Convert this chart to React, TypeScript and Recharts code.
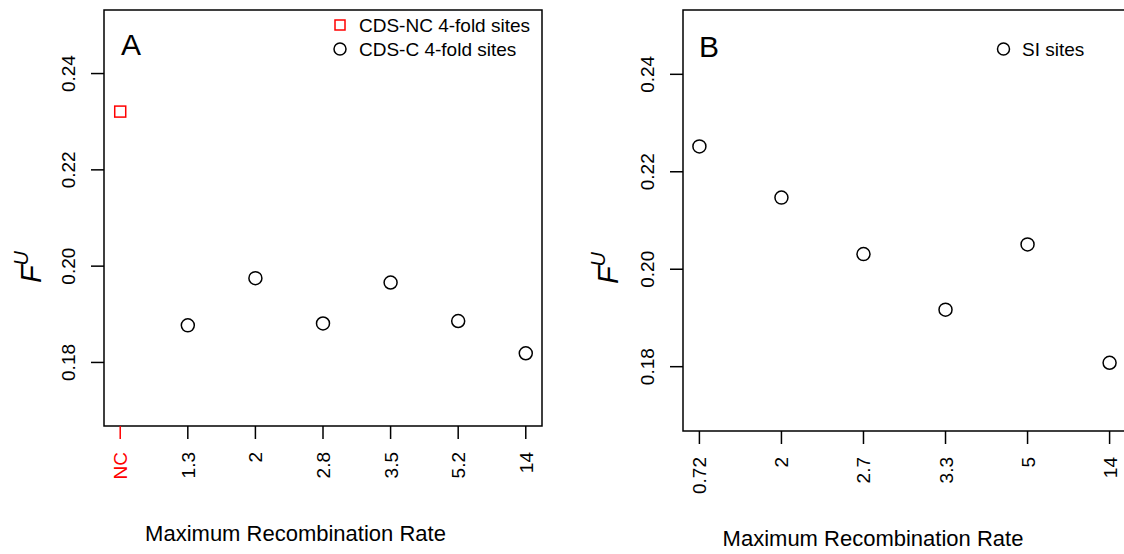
import React from "react";
import { ReferenceArea, Scatter, ScatterChart, XAxis, YAxis } from "recharts";

const FONT = "'Liberation Sans', Arial, Helvetica, sans-serif";

// panel A: CDS 4-fold sites
const ratesA = ["NC", "1.3", "2", "2.8", "3.5", "5.2", "14"];
const cdsNcA = [0.2321];
const cdsCA = [0.1877, 0.1975, 0.1881, 0.1966, 0.1886, 0.1819];

// panel B: SI sites
const ratesB = ["0.72", "2", "2.7", "3.3", "5", "14"];
const siB = [0.2252, 0.2147, 0.2031, 0.1917, 0.2051, 0.1808];

const yTicks = [0.18, 0.2, 0.22, 0.24];
const yLim = [0.17, 0.25];

// R pads axis limits by 4% on each side
function rRange(lo: number, hi: number): [number, number] {
  const pad = (hi - lo) * 0.04;
  return [lo - pad, hi + pad];
}

const toPoints = (vals: number[], start: number) =>
  vals.map((v, i) => ({ x: start + i, y: v }));

const Circle = (p: any) => (
  <circle cx={p.cx} cy={p.cy} r={6.5} fill="none" stroke="#000" strokeWidth={1.5} />
);
const Square = (p: any) => (
  <rect x={p.cx - 5.5} y={p.cy - 5.5} width={11} height={11} fill="none" stroke="#ff0000" strokeWidth={1.5} />
);

function XTick(p: any) {
  const { x, y, payload, labels } = p;
  const label = labels[Math.round(payload.value) - 1];
  const color = label === "NC" ? "#ff0000" : "#000";
  const tx = x + 7;
  const ty = y + 26;
  return (
    <g>
      <line x1={x} y1={y} x2={x} y2={y + 13} stroke={color} strokeWidth={1.5} />
      <text
        x={tx}
        y={ty}
        transform={`rotate(-90 ${tx} ${ty})`}
        textAnchor="end"
        fontSize={19}
        fontFamily={FONT}
        fill={color}
      >
        {label}
      </text>
    </g>
  );
}

function YTick(p: any) {
  const { x, y, payload } = p;
  const tx = x - 29;
  return (
    <g>
      <line x1={x - 13} y1={y} x2={x} y2={y} stroke="#000" strokeWidth={1.5} />
      <text
        x={tx}
        y={y}
        transform={`rotate(-90 ${tx} ${y})`}
        textAnchor="middle"
        fontSize={19}
        fontFamily={FONT}
        fill="#000"
      >
        {Number(payload.value).toFixed(2)}
      </text>
    </g>
  );
}

type Series = { values: number[]; start: number; shape: (p: any) => React.ReactElement };

function Panel({
  labels,
  series,
  width,
  yAxisWidth,
  marginRight,
  marginBottom,
}: {
  labels: string[];
  series: Series[];
  width: number;
  yAxisWidth: number;
  marginRight: number;
  marginBottom: number;
}) {
  const xDomain = rRange(1, labels.length);
  const yDomain = rRange(yLim[0], yLim[1]);
  return (
    <ScatterChart
      width={width}
      height={554}
      margin={{ top: 10, right: marginRight, bottom: marginBottom, left: 0 }}
    >
      <XAxis
        type="number"
        dataKey="x"
        domain={xDomain}
        ticks={labels.map((_, i) => i + 1)}
        interval={0}
        height={100}
        tickSize={0}
        tickMargin={0}
        axisLine={false}
        tickLine={false}
        allowDataOverflow
        tick={(p: any) => <XTick {...p} labels={labels} />}
      />
      <YAxis
        type="number"
        dataKey="y"
        domain={yDomain}
        ticks={yTicks}
        interval={0}
        width={yAxisWidth}
        tickSize={0}
        tickMargin={0}
        axisLine={false}
        tickLine={false}
        allowDataOverflow
        tick={(p: any) => <YTick {...p} />}
      />
      <ReferenceArea
        x1={xDomain[0]}
        x2={xDomain[1]}
        y1={yDomain[0]}
        y2={yDomain[1]}
        fill="none"
        fillOpacity={0}
        stroke="#000"
        strokeWidth={1.5}
        ifOverflow="visible"
      />
      {series.map((s, i) => (
        <Scatter
          key={i}
          data={toPoints(s.values, s.start)}
          shape={s.shape}
          isAnimationActive={false}
        />
      ))}
    </ScatterChart>
  );
}

function FU({ x, y }: { x: number; y: number }) {
  return (
    <text
      x={x}
      y={y}
      transform={`rotate(-90 ${x} ${y})`}
      textAnchor="middle"
      fontFamily={FONT}
      fontStyle="italic"
      fill="#000"
    >
      <tspan fontSize={29}>F</tspan>
      <tspan fontSize={20} dy={-13}>U</tspan>
    </text>
  );
}

export default function App() {
  return (
    <div
      style={{
        position: "absolute",
        left: 0,
        top: 0,
        width: 1124,
        height: 554,
        overflow: "hidden",
        background: "#fff",
        fontFamily: FONT,
      }}
    >
      <div style={{ position: "absolute", left: 0, top: 0 }}>
        <Panel
          labels={ratesA}
          series={[
            { values: cdsNcA, start: 1, shape: Square },
            { values: cdsCA, start: 2, shape: Circle },
          ]}
          width={560}
          yAxisWidth={104}
          marginRight={18}
          marginBottom={28}
        />
      </div>
      <div style={{ position: "absolute", left: 560, top: 0 }}>
        <Panel
          labels={ratesB}
          series={[{ values: siB, start: 1, shape: Circle }]}
          width={600}
          yAxisWidth={123}
          marginRight={34}
          marginBottom={23}
        />
      </div>
      <svg
        width={1124}
        height={554}
        style={{ position: "absolute", left: 0, top: 0, pointerEvents: "none" }}
      >
        <text x={121} y={55} fontSize={30} fontFamily={FONT}>A</text>
        <text x={699} y={57} fontSize={30} fontFamily={FONT}>B</text>
        <FU x={41} y={267} />
        <FU x={618} y={268} />
        <text x={295.5} y={541} fontSize={22} fontFamily={FONT} textAnchor="middle">
          Maximum Recombination Rate
        </text>
        <text x={873} y={546} fontSize={22} fontFamily={FONT} textAnchor="middle">
          Maximum Recombination Rate
        </text>
        {/* legends */}
        <rect x={335} y={20} width={10} height={10} fill="none" stroke="#ff0000" strokeWidth={1.5} />
        <text x={359} y={31.5} fontSize={19} fontFamily={FONT}>CDS-NC 4-fold sites</text>
        <circle cx={340} cy={49} r={6} fill="none" stroke="#000" strokeWidth={1.5} />
        <text x={359} y={55.5} fontSize={19} fontFamily={FONT}>CDS-C 4-fold sites</text>
        <circle cx={1003.5} cy={49} r={6} fill="none" stroke="#000" strokeWidth={1.5} />
        <text x={1022} y={55.5} fontSize={19} fontFamily={FONT}>SI sites</text>
      </svg>
    </div>
  );
}
